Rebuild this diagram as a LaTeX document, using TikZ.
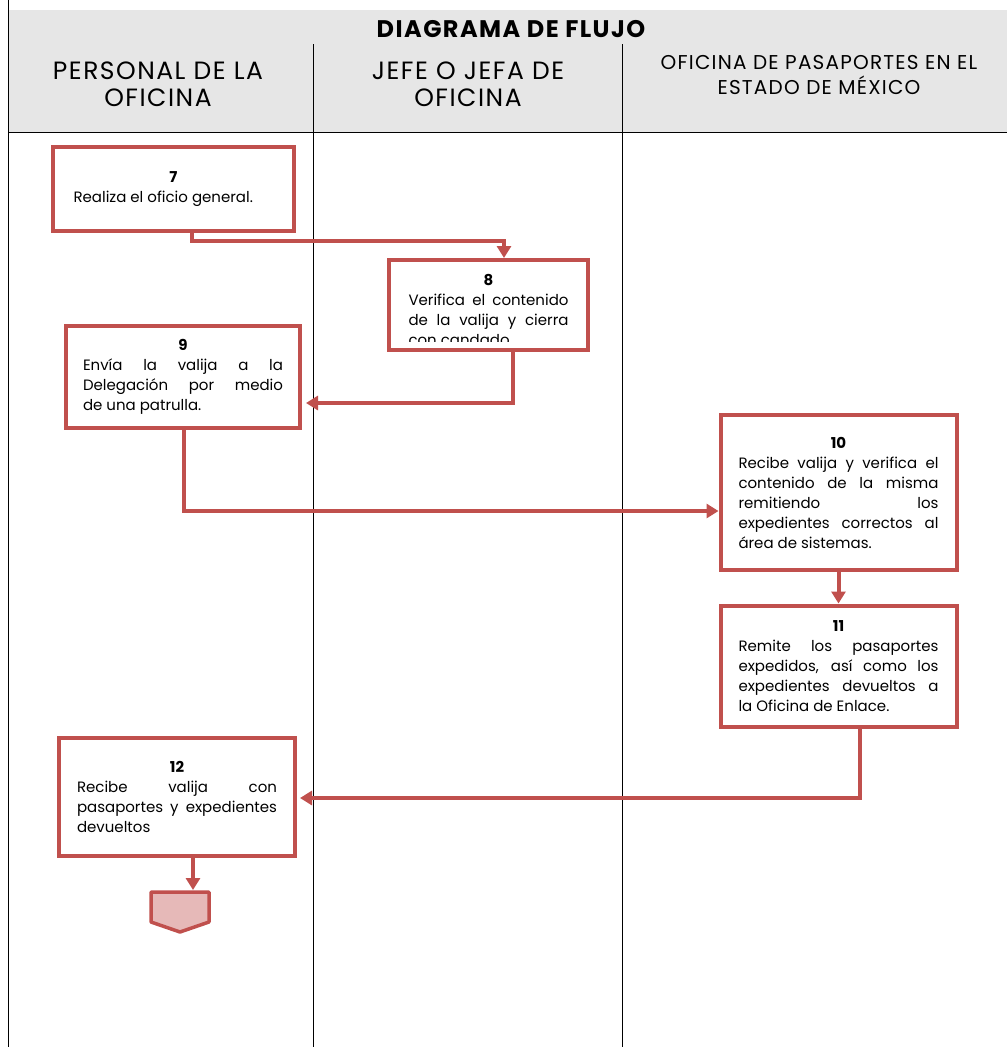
\documentclass[tikz,border=0pt]{standalone}
\usepackage{fontspec}
\setmainfont{Poppins}
\newfontfamily\anchafont[LetterSpace=6]{Poppins}
\newfontfamily\titulofont[LetterSpace=6]{Poppins}
\usetikzlibrary{arrows.meta,calc}

\definecolor{rojo}{RGB}{192,80,77}
\definecolor{rosa}{RGB}{230,185,184}
\definecolor{gris}{RGB}{230,230,230}
\newcommand{\numpaso}[1]{{\centering\bfseries #1\par}}
\hbadness=10000

\tikzset{
	pasobox/.style={draw=rojo, line width=4pt, inner sep=0pt, text width=200pt, align=justify, font=\fontsize{15}{20}\selectfont},
	pasotexto/.style={inner sep=0pt, text width=160pt, align=justify, font=\fontsize{15}{20}\selectfont},
	flujo/.style={draw=rojo, line width=4pt, -{Triangle[length=12pt,width=14pt]}},
	carril/.style={draw=black, line width=1pt},
	encabezado/.style={align=center, font=\anchafont\fontsize{25}{27}\selectfont}
}

\begin{document}
\begin{tikzpicture}[x=1pt,y=-1pt]
	\useasboundingbox (0,0) rectangle (1007,1047);

	\fill[gris] (8,10) rectangle (1007,132);
	\draw[carril] (8,0) -- (8,1047);
	\draw[carril] (313,44) -- (313,1047);
	\draw[carril] (622,44) -- (622,1047);
	\draw[carril] (8,132) -- (1007,132);

	\node[font=\titulofont\bfseries\fontsize{24}{26}\selectfont] (titulo) at (511,29) {DIAGRAMA DE FLUJO};
	\node[encabezado] (carril1) at (158,84) {PERSONAL DE LA\\OFICINA};
	\node[encabezado] (carril2) at (468,84) {JEFE O JEFA DE\\OFICINA};
	\node[encabezado, font=\anchafont\fontsize{20}{25}\selectfont] (carril3) at (819,75) {OFICINA DE PASAPORTES EN EL\\ESTADO DE MÉXICO};

	\node[pasobox, minimum width=241pt, minimum height=84pt] (p7) at (173.5,189) {\numpaso{7}Realiza el oficio general.};
	\node[draw=rojo, line width=4pt, minimum width=199pt, minimum height=90pt] (p8) at (488.5,305) {};
	\begin{scope}
		\clip (391,262) rectangle (586,341);
		\node[pasotexto, anchor=north] (t8) at (488.5,274) {\numpaso{8}Verifica el contenido\linebreak de la valija y cierra\linebreak con candado.};
	\end{scope}
	\node[pasobox, minimum width=234pt, minimum height=102pt] (p9) at (183,377) {\numpaso{9}Envía la valija a la\linebreak Delegación por medio\linebreak de una patrulla.};
	\node[pasobox, minimum width=236pt, minimum height=155pt] (p10) at (838.5,492.5) {\numpaso{10}Recibe valija y verifica el\linebreak contenido de la misma\linebreak remitiendo los\linebreak expedientes correctos al\linebreak área de sistemas.};
	\node[pasobox, minimum width=236pt, minimum height=121pt] (p11) at (838.5,666) {\numpaso{11}Remite los pasaportes\linebreak expedidos, así como los\linebreak expedientes devueltos a\linebreak la Oficina de Enlace.};
	\node[pasobox, minimum width=236pt, minimum height=118pt] (p12) at (177,797) {\numpaso{12}Recibe valija con\linebreak pasaportes y expedientes\linebreak devueltos};

	\draw[draw=rojo, fill=rosa, line width=3.5pt, line join=round] (151,892) -- (209,892) -- (209,922) -- (180,932) -- (151,922) -- cycle;
	\coordinate (fin) at (193,890);

	\draw[flujo] ($(p7.south)+(18.5,0)$) |- ++(0,8) -| ($(p8.north)+(15.5,0)$);
	\draw[flujo, shorten >=4pt] ($(p8.south)+(24.5,0)$) |- ($(p9.east)+(0,26)$);
	\draw[flujo] ($(p9.south)+(1,0)$) |- ($(p10.west)+(0,18.5)$);
	\draw[flujo] (p10.south) -- (p11.north);
	\draw[flujo, shorten >=3pt] ($(p11.south)+(21.5,0)$) |- ($(p12.east)+(0,1)$);
	\draw[flujo] ($(p12.south)+(16,0)$) -- (fin);
\end{tikzpicture}
\end{document}
